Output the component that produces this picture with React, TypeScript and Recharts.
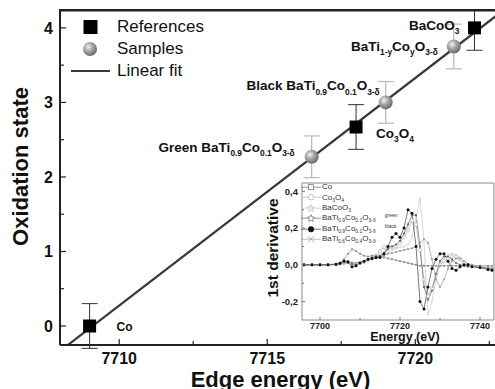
import React from "react";
import {
  ComposedChart,
  Line,
  Scatter,
  XAxis,
  YAxis,
  ErrorBar,
  ReferenceDot,
  ReferenceArea,
  Legend,
} from "recharts";

const FONT = '"Liberation Sans", Arial, sans-serif';

// main plot: edge energy vs oxidation state
const refNames = ["Co", "Co3O4", "BaCoO3"];
const refEnergy = [7709, 7718, 7722];
const refState = [0, 2.67, 4];
const refErr = [0.3, 0.3, 0.3];

const sampleNames = ["Green", "Black", "BaTi1-y"];
const sampleEnergy = [7716.5, 7719, 7721.3];
const sampleState = [2.27, 3.0, 3.75];
const sampleErr = [0.28, 0.28, 0.3];

const fitEnergy = [7708.25, 7722.76];
const fitState = [-0.26, 4.17];

const xTicks = [7710, 7712.5, 7715, 7717.5, 7720, 7722.5];
const yTicks = [0, 0.5, 1, 1.5, 2, 2.5, 3, 3.5, 4];

// point annotations ([text, subscript?])
const pointLabels: { at: string; parts: [string, boolean?][] }[] = [
  { at: "BaCoO3", parts: [["BaCoO"], ["3", true]] },
  { at: "BaTi1-y", parts: [["BaTi"], ["1-y", true], ["Co"], ["y", true], ["O"], ["3-δ", true]] },
  { at: "Black", parts: [["Black BaTi"], ["0.9", true], ["Co"], ["0.1", true], ["O"], ["3-δ", true]] },
  { at: "Co3O4", parts: [["Co"], ["3", true], ["O"], ["4", true]] },
  { at: "Green", parts: [["Green BaTi"], ["0.9", true], ["Co"], ["0.1", true], ["O"], ["3-δ", true]] },
  { at: "Co", parts: [["Co"]] },
];

const labelPlacement: Record<string, { dx: number; dy: number; anchor: "start" | "end"; size: number }> = {
  BaCoO3: { dx: -15, dy: 2, anchor: "end", size: 13.5 },
  "BaTi1-y": { dx: -16, dy: 4, anchor: "end", size: 13.5 },
  Black: { dx: -6, dy: -12, anchor: "end", size: 13.5 },
  Co3O4: { dx: 20, dy: 11, anchor: "start", size: 13.5 },
  Green: { dx: -17, dy: -5, anchor: "end", size: 13.5 },
  Co: { dx: 27, dy: 5, anchor: "start", size: 12 },
};

// inset: first derivative of XANES spectra
const energies = [
  7696, 7698, 7700, 7702, 7704, 7705, 7706, 7707, 7708, 7709, 7710, 7711, 7712, 7713,
  7714, 7715, 7716, 7717, 7718, 7719, 7720, 7721, 7722, 7723, 7724, 7725, 7726, 7727,
  7728, 7729, 7730, 7731, 7732, 7733, 7734, 7735, 7736, 7737, 7738, 7740, 7742, 7743,
];
const coDeriv = [
  0, 0, 0, 0.002, 0.005, 0.012, 0.03, 0.06, 0.085, 0.075, 0.06, 0.05, 0.045, 0.05,
  0.05, 0.045, 0.04, 0.035, 0.03, 0.025, 0.02, 0.015, 0.01, 0.005, 0, -0.005, -0.005, -0.005,
  -0.005, -0.005, -0.005, -0.005, -0.005, -0.005, -0.005, -0.005, -0.005, -0.005, -0.005, -0.005, -0.005, -0.005,
];
const co3o4Deriv = [
  0, 0, 0, 0, 0.003, 0.006, 0.01, 0.015, 0.01, 0.005, 0.01, 0.015, 0.025, 0.035,
  0.05, 0.075, 0.095, 0.1, 0.095, 0.1, 0.12, 0.15, 0.19, 0.24, 0.22, 0.08, -0.08, -0.17,
  -0.13, -0.05, 0, 0.02, 0.035, 0.045, 0.045, 0.03, 0.01, 0, -0.005, -0.01, -0.015, -0.02,
];
const bacoo3Deriv = [
  0, 0, 0, 0, 0, 0.003, 0.006, 0.008, 0.01, 0.012, 0.015, 0.02, 0.025, 0.03,
  0.04, 0.05, 0.06, 0.07, 0.08, 0.09, 0.095, 0.1, 0.11, 0.15, 0.25, 0.36, 0.12, -0.27,
  -0.2, -0.08, 0, 0.04, 0.055, 0.06, 0.055, 0.04, 0.02, 0.005, 0, -0.01, -0.015, -0.02,
];
const greenDeriv = [
  0, 0, 0, 0, 0.003, 0.01, 0.02, 0.02, 0.005, 0, 0.01, 0.02, 0.03, 0.04,
  0.045, 0.05, 0.065, 0.085, 0.1, 0.11, 0.13, 0.17, 0.22, 0.27, 0.27, 0.1, -0.12, -0.19,
  -0.14, -0.05, 0.02, 0.045, 0.045, 0.03, 0.01, 0, -0.005, -0.01, -0.01, -0.015, -0.02, -0.025,
];
const blackDeriv = [
  0, 0, 0, 0, 0.003, 0.008, 0.02, 0.015, -0.01, -0.005, 0.01, 0.02, 0.03, 0.035,
  0.04, 0.04, 0.06, 0.1, 0.15, 0.17, 0.15, 0.2, 0.3, 0.28, 0.1, -0.2, -0.24, -0.12,
  -0.02, 0.03, 0.06, 0.06, 0.02, -0.02, -0.03, -0.01, 0, 0, -0.01, -0.015, -0.025, -0.03,
];
const bati06Deriv = [
  0, 0, 0, 0, 0, 0.003, 0.008, 0.012, 0.012, 0.01, 0.012, 0.018, 0.025, 0.03,
  0.035, 0.04, 0.05, 0.06, 0.065, 0.07, 0.075, 0.08, 0.085, 0.09, 0.1, 0.12, 0.14, 0.12,
  0.03, -0.08, -0.12, -0.08, -0.02, 0.02, 0.035, 0.035, 0.02, 0.005, 0, -0.01, -0.015, -0.02,
];
const insetXTicks = [7700, 7710, 7720, 7730, 7740];
const insetYTicks = [-0.2, -0.1, 0, 0.1, 0.2, 0.3, 0.4];

const refPoints = refNames.map((n, i) => ({ name: n, x: refEnergy[i], y: refState[i], err: refErr[i] }));
const samplePoints = sampleNames.map((n, i) => ({ name: n, x: sampleEnergy[i], y: sampleState[i], err: sampleErr[i] }));
const allPoints = [...refPoints, ...samplePoints];
const fitRows = fitEnergy.map((x, i) => ({ x, fit: fitState[i] }));
const insetRows = energies.map((e, i) => ({
  e,
  co: coDeriv[i],
  co3o4: co3o4Deriv[i],
  bacoo3: bacoo3Deriv[i],
  green: greenDeriv[i],
  black: blackDeriv[i],
  bati06: bati06Deriv[i],
}));

function RichText({ x, y, parts, size, anchor }: any) {
  const sub = size * 0.62;
  const shift = size * 0.32;
  let level = 0;
  return (
    <text x={x} y={y} textAnchor={anchor} fontFamily={FONT} fontWeight="bold" fontSize={size} fill="#111">
      {parts.map(([t, s]: [string, boolean?], i: number) => {
        const target = s ? shift : 0;
        const dy = target - level;
        level = target;
        return (
          <tspan key={i} dy={dy} fontSize={s ? sub : size}>
            {t}
          </tspan>
        );
      })}
    </text>
  );
}

const SquareMark = (p: any) => <rect x={p.cx - 6.5} y={p.cy - 6.5} width={13} height={13} fill="#000" />;
const SphereMark = (p: any) => <circle cx={p.cx} cy={p.cy} r={7} fill="url(#sphereFill)" />;

const MainXTick = (p: any) => {
  const v = p.payload.value;
  const major = v % 5 === 0;
  return (
    <g>
      <line x1={p.x} x2={p.x} y1={p.y} y2={p.y - (major ? 6 : 4)} stroke="#222" strokeWidth={1.2} />
      {major && (
        <text x={p.x} y={p.y + 19} textAnchor="middle" fontFamily={FONT} fontWeight="bold" fontSize={16} fill="#111">
          {v}
        </text>
      )}
    </g>
  );
};

const MainYTick = (p: any) => {
  const v = p.payload.value;
  const major = Number.isInteger(v);
  return (
    <g>
      <line x1={p.x} x2={p.x + (major ? 6 : 4)} y1={p.y} y2={p.y} stroke="#222" strokeWidth={1.2} />
      {major && (
        <text x={p.x - 7} y={p.y + 6} textAnchor="end" fontFamily={FONT} fontWeight="bold" fontSize={16} fill="#111">
          {v}
        </text>
      )}
    </g>
  );
};

const InsetXTick = (p: any) => {
  const v = p.payload.value;
  const major = (v - 7700) % 20 === 0;
  return (
    <g>
      <line x1={p.x} x2={p.x} y1={p.y} y2={p.y - (major ? 3 : 2)} stroke="#777" />
      {major && (
        <text x={p.x} y={p.y + 8.5} textAnchor="middle" fontFamily={FONT} fontWeight="bold" fontSize={9} fill="#222">
          {v}
        </text>
      )}
    </g>
  );
};

const InsetYTick = (p: any) => {
  const v = p.payload.value;
  const major = Math.round(v * 10) % 2 === 0;
  return (
    <g>
      <line x1={p.x} x2={p.x + (major ? 3 : 2)} y1={p.y} y2={p.y} stroke="#777" />
      {major && (
        <text x={p.x - 4} y={p.y + 3.3} textAnchor="end" fontFamily={FONT} fontWeight="bold" fontSize={9.5} fill="#222">
          {v.toFixed(1).replace(".", ",")}
        </text>
      )}
    </g>
  );
};

const mainXTitle = (p: any) => {
  const vb = p.viewBox;
  return (
    <text x={vb.x + vb.width / 2 + 2} y={vb.y + 42} textAnchor="middle" fontFamily={FONT} fontWeight="bold" fontSize={22} fill="#111">
      Edge energy (eV)
    </text>
  );
};

// y title; also draws the plot's top frame edge from the axis box
const mainYTitle = (p: any) => {
  const vb = p.viewBox;
  const x = vb.x + 28;
  const y = vb.y + vb.height / 2 - 11;
  return (
    <g>
      <line x1={vb.x + vb.width - 1} x2={vb.x + vb.width + 460} y1={vb.y + 0.5} y2={vb.y + 0.5} stroke="#222" strokeWidth={1.8} />
      <text x={x} y={y} transform={`rotate(-90 ${x} ${y})`} textAnchor="middle" fontFamily={FONT} fontWeight="bold" fontSize={22} fill="#111">
        Oxidation state
      </text>
    </g>
  );
};

const insetXTitle = (p: any) => {
  const vb = p.viewBox;
  return (
    <text x={vb.x + vb.width / 2 + 7} y={vb.y + 20.5} textAnchor="middle" fontFamily={FONT} fontWeight="bold" fontSize={12.5} fill="#111">
      Energy (eV)
    </text>
  );
};

const insetYTitle = (p: any) => {
  const vb = p.viewBox;
  const x = vb.x + 28;
  const y = vb.y + vb.height / 2 - 3.5;
  return (
    <text x={x} y={y} transform={`rotate(-90 ${x} ${y})`} textAnchor="middle" fontFamily={FONT} fontWeight="bold" fontSize={15.5} fill="#111">
      1st derivative
    </text>
  );
};

function MainLegend() {
  const rows = [
    { name: "References", kind: "square" },
    { name: "Samples", kind: "sphere" },
    { name: "Linear fit", kind: "line" },
  ];
  return (
    <div style={{ fontFamily: FONT, fontSize: 17, color: "#111" }}>
      <svg width={0} height={0} style={{ position: "absolute" }}>
        <defs>
          <radialGradient id="legendSphere" cx="38%" cy="35%" r="65%">
            <stop offset="0%" stopColor="#f2f2f2" />
            <stop offset="45%" stopColor="#a9a9a9" />
            <stop offset="100%" stopColor="#6b6b6b" />
          </radialGradient>
        </defs>
      </svg>
      {rows.map((r) => (
        <div key={r.name} style={{ display: "flex", alignItems: "center", height: 22 }}>
          <svg width={52} height={22}>
            {r.kind === "square" && <rect x={19.5} y={4} width={14} height={14} fill="#000" />}
            {r.kind === "sphere" && <circle cx={26} cy={11} r={7} fill="url(#legendSphere)" />}
            {r.kind === "line" && <line x1={7} x2={46} y1={11} y2={11} stroke="#3a3a3a" strokeWidth={2.2} />}
          </svg>
          <span style={{ marginLeft: 1, lineHeight: "22px" }}>{r.name}</span>
        </div>
      ))}
    </div>
  );
}

const starPath = (cx: number, cy: number, R: number) => {
  const pts: string[] = [];
  for (let k = 0; k < 10; k++) {
    const rr = k % 2 === 0 ? R : R * 0.45;
    const a = -Math.PI / 2 + (k * Math.PI) / 5;
    pts.push(`${cx + rr * Math.cos(a)},${cy + rr * Math.sin(a)}`);
  }
  return "M" + pts.join("L") + "Z";
};

function InsetLegend() {
  const sub = (t: string) => (
    <span style={{ fontSize: 5, position: "relative", top: 2 }}>{t}</span>
  );
  const sup = (t: string) => (
    <span style={{ fontSize: 5, position: "relative", top: -3, marginLeft: 9 }}>{t}</span>
  );
  const rows = [
    { key: "co", color: "#777", label: <>Co</> },
    { key: "co3o4", color: "#bbb", label: <>Co{sub("3")}O{sub("4")}</> },
    { key: "bacoo3", color: "#ccc", label: <>BaCoO{sub("3")}</> },
    { key: "green", color: "#777", label: <>BaTi{sub("0.9")}Co{sub("0.1")}O{sub("3-δ")}{sup("green")}</> },
    { key: "black", color: "#555", label: <>BaTi{sub("0.9")}Co{sub("0.1")}O{sub("3-δ")}{sup("black")}</> },
    { key: "bati06", color: "#aaa", label: <>BaTi{sub("0.6")}Co{sub("0.4")}O{sub("3-δ")}</> },
  ];
  const marker = (k: string) => {
    switch (k) {
      case "co":
        return <rect x={7.5} y={2.7} width={5} height={5} fill="#fff" stroke="#666" strokeWidth={0.7} />;
      case "co3o4":
        return <circle cx={10} cy={5.2} r={2.8} fill="#fff" stroke="#aaa" strokeWidth={0.7} />;
      case "bacoo3":
        return <path d={starPath(10, 5.4, 3.8)} fill="#eee" stroke="#bbb" strokeWidth={0.6} />;
      case "green":
        return <path d={starPath(10, 5.4, 3.8)} fill="#fff" stroke="#666" strokeWidth={0.7} />;
      case "black":
        return <circle cx={10} cy={5.2} r={3} fill="#111" />;
      default:
        return (
          <g stroke="#999" strokeWidth={0.8}>
            <line x1={7} x2={13} y1={2.2} y2={8.2} />
            <line x1={7} x2={13} y1={8.2} y2={2.2} />
          </g>
        );
    }
  };
  return (
    <div style={{ fontFamily: FONT, fontSize: 8, color: "#333" }}>
      {rows.map((r) => (
        <div key={r.key} style={{ display: "flex", alignItems: "center", height: 10.4, whiteSpace: "nowrap" }}>
          <svg width={20} height={10.4}>
            <line x1={0} x2={20} y1={5.2} y2={5.2} stroke={r.color} strokeWidth={0.8} />
            {marker(r.key)}
          </svg>
          <span style={{ marginLeft: 1, lineHeight: "10px" }}>{r.label}</span>
        </div>
      ))}
    </div>
  );
}

const insetSeries = [
  { key: "bacoo3", color: "#cfcfcf", dot: { r: 1.1, fill: "#ddd", stroke: "none" } },
  { key: "co3o4", color: "#bbbbbb", dot: { r: 1.6, fill: "#fff", stroke: "#aaa", strokeWidth: 0.6 } },
  { key: "bati06", color: "#a8a8a8", dot: { r: 1, fill: "#999", stroke: "none" } },
  { key: "co", color: "#999999", dot: { r: 1, fill: "#888", stroke: "none" } },
  { key: "green", color: "#777777", dot: { r: 1.1, fill: "#666", stroke: "none" } },
  { key: "black", color: "#555555", dot: { r: 1.5, fill: "#111", stroke: "none" } },
];

export default function App() {
  const xDomain = [7708, 7722.76];
  const yDomain = [-0.255, 4.24];
  return (
    <div style={{ position: "absolute", left: 0, top: 0, width: 495, height: 389, overflow: "hidden", background: "#fff" }}>
      <ComposedChart width={520} height={389} data={fitRows} margin={{ top: 10, right: 23, bottom: 0, left: 0 }}>
        <defs>
          <radialGradient id="sphereFill" cx="38%" cy="35%" r="65%">
            <stop offset="0%" stopColor="#f2f2f2" />
            <stop offset="45%" stopColor="#a9a9a9" />
            <stop offset="100%" stopColor="#6b6b6b" />
          </radialGradient>
        </defs>
        <XAxis
          dataKey="x"
          type="number"
          domain={xDomain}
          ticks={xTicks}
          interval={0}
          allowDataOverflow
          height={44}
          tickSize={0}
          tickMargin={0}
          tickLine={false}
          tick={<MainXTick />}
          axisLine={{ stroke: "#222", strokeWidth: 2 }}
          label={mainXTitle}
        />
        <YAxis
          type="number"
          domain={yDomain}
          ticks={yTicks}
          interval={0}
          allowDataOverflow
          width={60}
          tickSize={0}
          tickMargin={0}
          tickLine={false}
          tick={<MainYTick />}
          axisLine={{ stroke: "#222", strokeWidth: 2 }}
          label={mainYTitle}
        />
        <Line dataKey="fit" type="linear" stroke="#3a3a3a" strokeWidth={2.2} dot={false} isAnimationActive={false} legendType="none" />
        <Scatter data={refPoints} dataKey="y" shape={SquareMark} isAnimationActive={false} legendType="none">
          <ErrorBar dataKey="err" direction="y" width={8} stroke="#333" strokeWidth={1} />
        </Scatter>
        <Scatter data={samplePoints} dataKey="y" shape={SphereMark} isAnimationActive={false} legendType="none">
          <ErrorBar dataKey="err" direction="y" width={8} stroke="#bdbdbd" strokeWidth={1.3} />
        </Scatter>
        {pointLabels.map((l) => {
          const pt = allPoints.find((q) => q.name === l.at)!;
          const pl = labelPlacement[l.at];
          return (
            <ReferenceDot
              key={l.at}
              x={pt.x}
              y={pt.y}
              r={0}
              fill="none"
              stroke="none"
              label={(p: any) => {
                const vb = p.viewBox || p;
                return <RichText x={vb.x + (vb.width || 0) / 2 + pl.dx} y={vb.y + (vb.height || 0) / 2 + pl.dy} parts={l.parts} size={pl.size} anchor={pl.anchor} />;
              }}
            />
          );
        })}
        <Legend layout="horizontal" verticalAlign="middle" align="center" wrapperStyle={{ left: 64, top: 16, width: 170 }} content={() => <MainLegend />} />
      </ComposedChart>

      {/* hides the part of the BaCoO3 error bar above the frame, and draws the frame edge too */}
      <div
        style={{
          position: "absolute",
          zIndex: 5,
          left: 59,
          top: 0,
          width: 440,
          height: 9,
          background: "#fff",
          borderBottom: "1.6px solid #222",
        }}
      />

      <div style={{ position: "absolute", left: 250, top: 175 }}>
        <ComposedChart width={250} height={170} data={insetRows} margin={{ top: 8, right: 6, bottom: 0, left: 0 }}>
          <XAxis
            dataKey="e"
            type="number"
            domain={[7695.5, 7743.5]}
            ticks={insetXTicks}
            interval={0}
            allowDataOverflow
            height={25}
            tickSize={0}
            tickMargin={0}
            tickLine={false}
            tick={<InsetXTick />}
            axisLine={false}
            label={insetXTitle}
          />
          <YAxis
            type="number"
            domain={[-0.3, 0.445]}
            ticks={insetYTicks}
            interval={0}
            allowDataOverflow
            width={52}
            tickSize={0}
            tickMargin={0}
            tickLine={false}
            tick={<InsetYTick />}
            axisLine={false}
            label={insetYTitle}
          />
          <ReferenceArea x1={7695.5} x2={7743.5} y1={-0.3} y2={0.445} fill="#fff" fillOpacity={0} stroke="#8a8a8a" strokeWidth={1} />
          {insetSeries.map((s) => (
            <Line
              key={s.key}
              dataKey={s.key}
              type="linear"
              stroke={s.color}
              strokeWidth={0.8}
              dot={s.dot}
              isAnimationActive={false}
              legendType="none"
            />
          ))}
          <Legend layout="horizontal" verticalAlign="middle" align="center" wrapperStyle={{ left: 51, top: 7, width: 150 }} content={() => <InsetLegend />} />
        </ComposedChart>
      </div>
    </div>
  );
}
